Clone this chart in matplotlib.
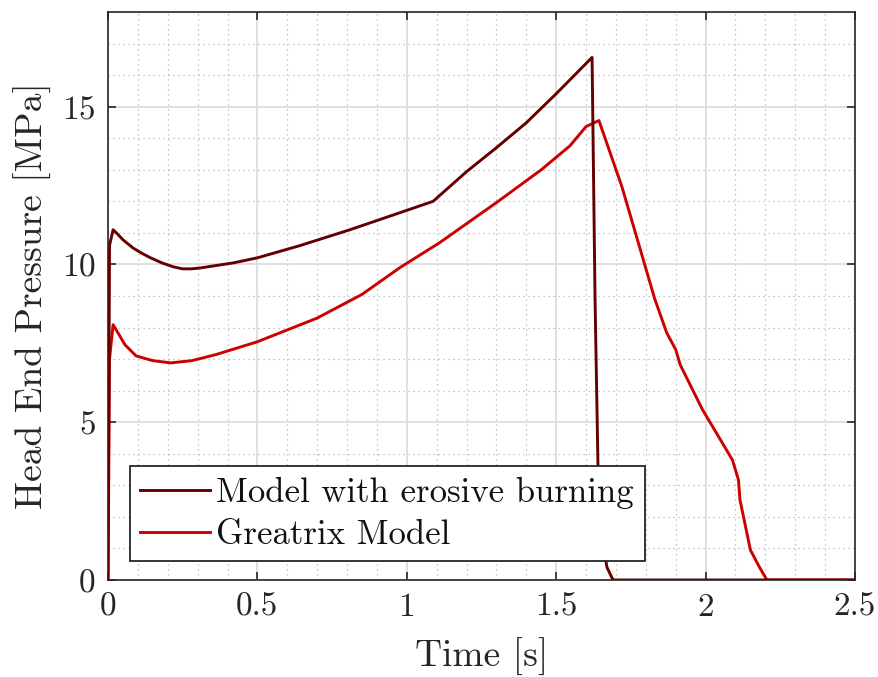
import numpy as np
import matplotlib.pyplot as plt
from matplotlib.ticker import MultipleLocator

plt.rcParams['font.family'] = ['cmr10', 'DejaVu Serif']
plt.rcParams['mathtext.fontset'] = 'cm'
plt.rcParams['axes.formatter.use_mathtext'] = True

# Model with erosive burning
t_erosive = [0.0, 0.005, 0.017, 0.03, 0.05, 0.084, 0.11, 0.14, 0.18, 0.22, 0.25, 0.28, 0.31, 0.42, 0.5, 0.64,
             0.81, 0.977, 1.088, 1.2, 1.3, 1.4, 1.5, 1.62, 1.63, 1.64, 1.655, 1.67, 1.69, 2.5]
p_erosive = [0.0, 10.6, 11.1, 10.98, 10.78, 10.52, 10.37, 10.22, 10.05, 9.92, 9.86, 9.86, 9.89, 10.05, 10.21, 10.59,
             11.1, 11.64, 12.0, 12.94, 13.7, 14.49, 15.41, 16.56, 8.9, 3.5, 1.2, 0.4, 0.0, 0.0]

# Greatrix model
t_greatrix = [0.0, 0.005, 0.017, 0.057, 0.094, 0.15, 0.21, 0.28, 0.36, 0.5, 0.7, 0.85,
              0.977, 1.11, 1.3, 1.45, 1.546, 1.60, 1.643, 1.72, 1.83, 1.87, 1.9, 1.915,
              1.99, 2.06, 2.09, 2.11, 2.115, 2.15, 2.18, 2.205, 2.5]
p_greatrix = [0.0, 7.0, 8.09, 7.45, 7.1, 6.95, 6.88, 6.95, 7.14, 7.55, 8.3, 9.05,
              9.9, 10.69, 11.96, 13.0, 13.76, 14.37, 14.56, 12.46, 8.9, 7.83, 7.3, 6.82,
              5.39, 4.28, 3.8, 3.17, 2.54, 0.95, 0.41, 0.0, 0.0]

fig = plt.figure(figsize=(8.79, 6.77), dpi=100)
ax = fig.add_axes([0.1229, 0.1433, 0.8498, 0.839])

ax.plot(t_greatrix, p_greatrix, color='#cc0000', lw=2.1, label='Greatrix Model', zorder=3)
ax.plot(t_erosive, p_erosive, color='#650000', lw=2.1, label='Model with erosive burning', zorder=4)

ax.set_xlim(0, 2.5)
ax.set_ylim(0, 18)
ax.xaxis.set_major_locator(MultipleLocator(0.5))
ax.xaxis.set_minor_locator(MultipleLocator(0.1))
ax.yaxis.set_major_locator(MultipleLocator(5))
ax.yaxis.set_minor_locator(MultipleLocator(1))
ax.set_xticks([0, 0.5, 1, 1.5, 2, 2.5], ['0', '0.5', '1', '1.5', '2', '2.5'])

ax.grid(which='major', color='#dcdcdc', lw=1.3, ls='-')
ax.grid(which='minor', color='#b5b5b5', lw=0.9, ls=(0, (1, 3)))
ax.set_axisbelow(True)
ax.tick_params(which='major', direction='in', length=6, width=1.2, top=True, right=True,
               labelsize=24, colors='#262626', pad=9)
ax.tick_params(which='minor', length=0)
for s in ax.spines.values():
    s.set_color('#262626')
    s.set_linewidth(1.2)

ax.set_xlabel('Time [s]', fontsize=27, color='#262626', labelpad=12)
ax.set_ylabel('Head End Pressure [MPa]', fontsize=27, color='#262626', labelpad=7)

h, l = ax.get_legend_handles_labels()
leg = ax.legend(h[::-1], l[::-1], loc='lower left', bbox_to_anchor=(0.029, 0.033),
                fontsize=25, fancybox=False, framealpha=1, edgecolor='#262626',
                handlelength=2.0, handletextpad=0.2, borderpad=0.3, labelspacing=0.3,
                borderaxespad=0)
leg.get_frame().set_linewidth(1.3)
for txt in leg.get_texts():
    txt.set_color('#111111')

fig.savefig('out.png', dpi=100)
